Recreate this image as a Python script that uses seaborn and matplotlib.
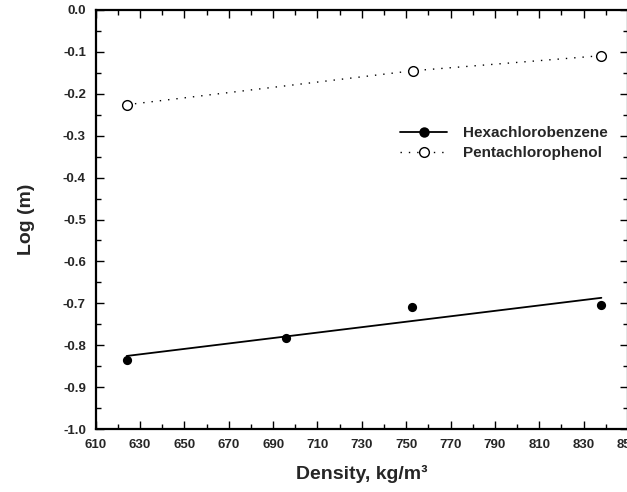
import numpy as np
import matplotlib
matplotlib.use("Agg")
import matplotlib.pyplot as plt
import seaborn as sns
import pandas as pd
from matplotlib.lines import Line2D
from matplotlib.ticker import MultipleLocator, FormatStrFormatter

# values
hexa_density = [624, 696, 752.5, 838]
hexa_logm = [-0.836, -0.783, -0.710, -0.705]
penta_density = [624, 753, 838]
penta_logm = [-0.226, -0.145, -0.109]
series_names = ["Hexachlorobenzene", "Pentachlorophenol"]
x_ticks = [610, 630, 650, 670, 690, 710, 730, 750, 770, 790, 810, 830, 850]

sns.set_style("ticks")
plt.rcParams["font.family"] = ["Liberation Sans", "DejaVu Sans"]
plt.rcParams["font.weight"] = "bold"
plt.rcParams["axes.unicode_minus"] = False

hexa_df = pd.DataFrame({"density": hexa_density, "logm": hexa_logm})
penta_df = pd.DataFrame({"density": penta_density, "logm": penta_logm})

fig = plt.figure(figsize=(6.27, 4.92), dpi=100)
ax = fig.add_axes([95.6 / 627, 1 - 429 / 492, 532.4 / 627, 419 / 492])

# hexachlorobenzene: points plus least-squares line
sns.regplot(data=hexa_df, x="density", y="logm", ax=ax, ci=None,
            scatter_kws=dict(s=44, color="black", alpha=1, linewidths=0, zorder=3),
            line_kws=dict(color="black", lw=1.3))

# pentachlorophenol: dotted line through open circles
sns.lineplot(data=penta_df, x="density", y="logm", ax=ax, color="black",
             lw=1.0, linestyle=(0, (1, 5)), marker="o", markersize=7,
             markerfacecolor="white", markeredgecolor="black", markeredgewidth=1.0)

ax.set_xlim(610, 850)
ax.set_ylim(-1.0, 0.0)
ax.set_xticks(x_ticks)
ax.xaxis.set_minor_locator(MultipleLocator(10))
ax.yaxis.set_major_locator(MultipleLocator(0.1))
ax.yaxis.set_minor_locator(MultipleLocator(0.05))
ax.yaxis.set_major_formatter(FormatStrFormatter("%.1f"))

ax.tick_params(which="both", direction="in", top=True, right=True, width=1.0,
               color="black")
ax.tick_params(which="major", length=6, labelsize=9.5, pad=7)
ax.tick_params(which="minor", length=3.5)
for lab in ax.get_xticklabels() + ax.get_yticklabels():
    lab.set_fontweight("bold")
for sp in ax.spines.values():
    sp.set_linewidth(1.6)
    sp.set_color("black")

ax.set_xlabel("Density, kg/m³", fontsize=14, fontweight="bold", labelpad=10)
ax.set_ylabel("Log (m)", fontsize=14, fontweight="bold", labelpad=20)

handles = [
    Line2D([], [], color="black", lw=1.3, marker="o", markersize=7.5,
           markerfacecolor="black", markeredgewidth=0),
    Line2D([], [], color="black", lw=1.0, linestyle=(0, (1, 5)), marker="o",
           markersize=7, markerfacecolor="white", markeredgecolor="black"),
]
ax.legend(handles, series_names, loc="center left",
          bbox_to_anchor=(400 / 627, 1 - 143 / 492), bbox_transform=fig.transFigure,
          frameon=False, borderpad=0, borderaxespad=0, handlelength=3.1,
          handletextpad=1.0, labelspacing=0.4,
          prop=dict(size=11, weight="bold"))

fig.savefig("out.png", dpi=100)
